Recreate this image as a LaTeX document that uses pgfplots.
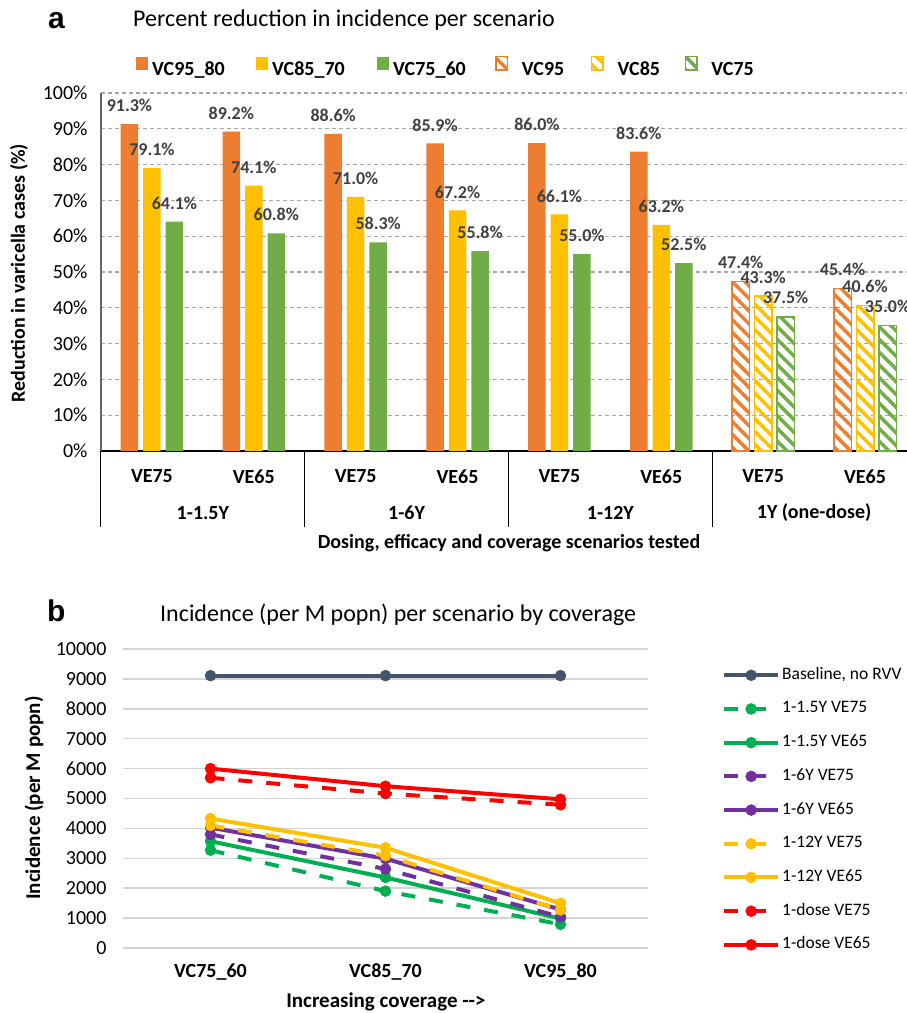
\documentclass[border=0pt]{standalone}
\usepackage{fontspec}
\setmainfont{Carlito}
\newfontfamily\arialf{Liberation Sans}
\usepackage{pgfplots}
\pgfplotsset{compat=1.18}
\usetikzlibrary{patterns.meta}
\definecolor{cOr}{HTML}{ED7D31}
\definecolor{cYe}{HTML}{FFC000}
\definecolor{cGr}{HTML}{70AD47}
\definecolor{lBase}{HTML}{44546A}
\definecolor{lGr}{HTML}{00B050}
\definecolor{lPu}{HTML}{7030A0}
\definecolor{lYe}{HTML}{FFC000}
\definecolor{lRe}{HTML}{FF0000}
\definecolor{labc}{HTML}{404040}
\newcommand\fs[1]{\fontsize{#1}{#1}\selectfont}
\pgfplotsset{/pgf/number format/assume math mode=true,
  sqleg/.style={legend image code/.code={\fill[##1] (0pt,0pt) rectangle (12pt,12.5pt);}},
  hatleg/.style={legend image code/.code={\draw[##1] (0.75pt,-0.5pt) rectangle (12.25pt,13pt); \path (22pt,0pt);}},
}
\begin{document}
\begin{tikzpicture}[x=1pt,y=1pt]
\useasboundingbox (0,0) rectangle (907,-1013);
% ---------- panel a ----------
\node[font=\arialf\bfseries\fs{30}, anchor=west, inner sep=0pt] at (48,-21) {a};
\node[font=\fs{24}, anchor=west, inner sep=0pt] at (133,-20) {Percent reduction in incidence per scenario};
\node[font=\bfseries\fs{20}, rotate=90] at (19,-273) {Reduction in varicella cases (\%)};
\node[font=\bfseries\fs{20}] at (509,-543) {Dosing, efficacy and coverage scenarios tested};
\begin{axis}[
  at={(101pt,-451pt)}, anchor=south west, scale only axis,
  width=815pt, height=358pt,
  xmin=-0.5, xmax=7.5, ymin=0, ymax=100,
  clip=false,
  ybar, bar width=17.5pt,
  axis x line*=bottom, axis y line*=left,
  x axis line style={black, line width=1.3pt},
  y axis line style={black!60, line width=1.3pt},
  ytick={0,10,...,100},
  yticklabel={\pgfmathprintnumber{\tick}\%},
  yticklabel style={font=\fs{20}, xshift=-10pt},
  ytick style={draw=none},
  xtick={0,...,7},
  xticklabels={VE75,VE65,VE75,VE65,VE75,VE65,VE75,VE65},
  xticklabel style={font=\bfseries\fs{20}, yshift=-15pt},
  major tick length=0pt,
  extra x ticks={-0.5,1.5,3.5,5.5,7.5}, extra x tick labels={},
  extra x tick style={major tick length=76pt, tick align=outside, tick style={black, line width=1pt}},
  ymajorgrids,
  major grid style={draw=black!35, line width=1.2pt, dash pattern=on 4pt off 3pt},
  nodes near coords={\pgfmathprintnumber[fixed,fixed zerofill,precision=1]{\pgfplotspointmeta}\%},
  every node near coord/.append style={font=\bfseries\fs{18}, text=labc, inner sep=0pt, yshift=12pt},
  legend style={at={(0.04294,1.0735)}, anchor=west, draw=none, fill=none, legend columns=-1,
    inner sep=0pt, nodes={inner sep=0pt},
    font=\bfseries\fs{20},
    /tikz/every odd column/.append style={column sep=4pt},
    /tikz/every even column/.append style={column sep=0pt}},
]
\addplot[fill=cOr, draw=none, bar shift=-22.5pt, sqleg] coordinates {(0,91.3) (1,89.2) (2,88.6) (3,85.9) (4,86.0) (5,83.6)};
\addlegendentry{\makebox[104pt][l]{VC95\_80}}
\addplot[fill=cYe, draw=none, bar shift=0pt, sqleg] coordinates {(0,79.1) (1,74.1) (2,71.0) (3,67.2) (4,66.1) (5,63.2)};
\addlegendentry{\makebox[105pt][l]{VC85\_70}}
\addplot[fill=cGr, draw=none, bar shift=22.5pt, sqleg] coordinates {(0,64.1) (1,60.8) (2,58.3) (3,55.8) (4,55.0) (5,52.5)};
\addlegendentry{\makebox[102pt][l]{VC75\_60}}
\addplot[draw=cOr, line width=1.5pt, pattern={Lines[angle=-45,distance=9pt,line width=3.5pt]}, pattern color=cOr, bar shift=-22.5pt, hatleg] coordinates {(6,47.4) (7,45.4)};
\addlegendentry{\makebox[69pt][l]{VC95}}
\addplot[draw=cYe, line width=1.5pt, pattern={Lines[angle=-45,distance=9pt,line width=3.5pt]}, pattern color=cYe, bar shift=0pt, hatleg] coordinates {(6,43.3) (7,40.6)};
\addlegendentry{\makebox[67pt][l]{VC85}}
\addplot[draw=cGr, line width=1.5pt, pattern={Lines[angle=-45,distance=9pt,line width=3.5pt]}, pattern color=cGr, bar shift=22.5pt, hatleg] coordinates {(6,37.5) (7,35.0)};
\addlegendentry{VC75}
\node[font=\bfseries\fs{20}] at (axis cs:0.5,0) [yshift=-62pt] {1-1.5Y};
\node[font=\bfseries\fs{20}] at (axis cs:2.5,0) [yshift=-62pt] {1-6Y};
\node[font=\bfseries\fs{20}] at (axis cs:4.5,0) [yshift=-62pt] {1-12Y};
\node[font=\bfseries\fs{20}] at (axis cs:6.5,0) [yshift=-62pt] {1Y (one-dose)};
\end{axis}
% ---------- panel b ----------
\node[font=\arialf\bfseries\fs{30}, anchor=west, inner sep=0pt] at (47,-611) {b};
\node[font=\fs{24}, anchor=west, inner sep=0pt] at (160,-615) {Incidence (per M popn) per scenario by coverage};
\node[font=\bfseries\fs{21}, rotate=90] at (34,-798) {Incidence (per M popn)};
\node[font=\bfseries\fs{21}] at (386,-1002) {Increasing coverage -{}-{}>};
\begin{axis}[
  at={(123pt,-948pt)}, anchor=south west, scale only axis,
  width=525pt, height=299pt,
  xmin=-0.5, xmax=2.5, ymin=0, ymax=10000,
  clip=false,
  ytick={0,1000,...,10000},
  scaled y ticks=false,
  yticklabel style={font=\fs{20}, /pgf/number format/1000 sep={}, xshift=-13pt},
  xtick={0,1,2}, xticklabels={VC75\_60,VC85\_70,VC95\_80},
  xticklabel style={font=\bfseries\fs{20}, yshift=-12pt},
  axis line style={draw=none}, major tick length=0pt,
  ymajorgrids, major grid style={draw=black!17, line width=1.5pt},
  every axis plot/.append style={line width=4pt, mark=*, mark size=5.5pt, mark options={solid, line width=0.5pt}},
  legend style={at={(1.1352,0.953)}, anchor=north west, draw=none, fill=none, font=\fs{17.5},
    row sep=13.7pt, nodes={text height=12pt, text depth=4pt, inner sep=2pt}, cells={anchor=west}},
  legend image code/.code={\draw[mark repeat=2, mark phase=2, #1] plot coordinates {(0pt,0pt) (27pt,0pt) (54pt,0pt)};},
]
\addplot[color=lBase] coordinates {(0,9110) (1,9110) (2,9110)};
\addlegendentry{Baseline, no RVV}
\addplot[color=lGr, dash pattern=on 14pt off 14pt] coordinates {(0,3270) (1,1904) (2,793)};
\addlegendentry{1-1.5Y VE75}
\addplot[color=lGr] coordinates {(0,3571) (1,2359) (2,984)};
\addlegendentry{1-1.5Y VE65}
\addplot[color=lPu, dash pattern=on 14pt off 14pt] coordinates {(0,3799) (1,2642) (2,1039)};
\addlegendentry{1-6Y VE75}
\addplot[color=lPu] coordinates {(0,4027) (1,2988) (2,1285)};
\addlegendentry{1-6Y VE65}
\addplot[color=lYe, dash pattern=on 14pt off 14pt] coordinates {(0,4100) (1,3088) (2,1275)};
\addlegendentry{1-12Y VE75}
\addplot[color=lYe] coordinates {(0,4328) (1,3352) (2,1494)};
\addlegendentry{1-12Y VE65}
\addplot[color=lRe, dash pattern=on 14pt off 14pt] coordinates {(0,5694) (1,5165) (2,4792)};
\addlegendentry{1-dose VE75}
\addplot[color=lRe] coordinates {(0,6000) (1,5411) (2,4974)};
\addlegendentry{1-dose VE65}
\end{axis}
\end{tikzpicture}
\end{document}
